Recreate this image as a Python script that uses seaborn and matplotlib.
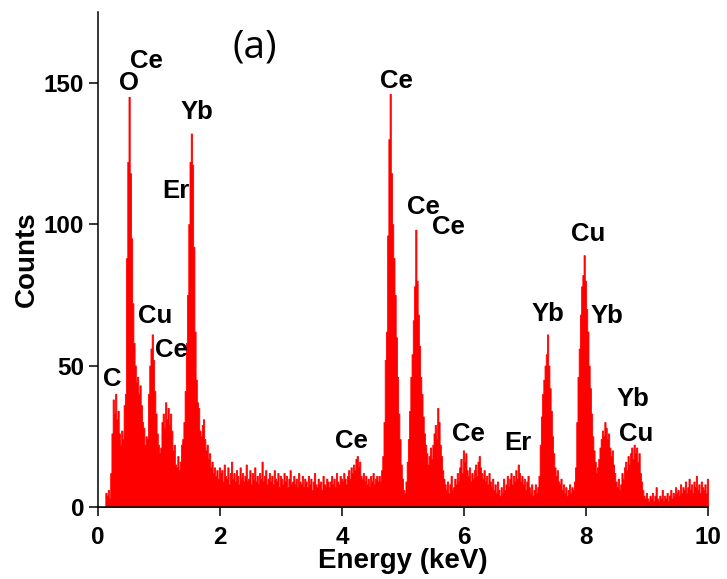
import numpy as np
import matplotlib
matplotlib.use("Agg")
import matplotlib.pyplot as plt
import seaborn as sns

# EDS spectrum, 0.02 keV per channel
counts_0_2kev = [
    0, 0, 0, 0, 0, 0, 5, 4, 6, 3, 12, 26, 38, 33, 40, 31, 34, 26, 22, 27, 24, 36, 40, 88, 122,
    145, 118, 95, 72, 58, 50, 44, 46, 40, 43, 36, 30, 28, 22, 25, 24, 40, 50, 56, 61, 52, 41, 33, 26, 22,
    19, 21, 30, 33, 28, 37, 31, 35, 29, 33, 27, 20, 22, 15, 14, 18, 13, 16, 22, 24, 30, 41, 58, 75, 100,
    122, 132, 121, 92, 62, 45, 37, 35, 27, 25, 29, 31, 24, 20, 22, 17, 19, 14, 16, 12, 14, 11, 13, 10, 14,
]
counts_2_4kev = [
    12, 13, 9, 15, 11, 10, 14, 8, 12, 16, 10, 12, 9, 13, 11, 8, 14, 10, 12, 9, 11, 15, 9, 10, 13,
    8, 12, 10, 14, 9, 11, 8, 12, 10, 16, 9, 11, 13, 8, 10, 12, 9, 11, 8, 13, 10, 9, 12, 7, 11,
    10, 8, 12, 9, 11, 7, 10, 13, 8, 9, 11, 8, 10, 7, 12, 9, 8, 11, 7, 10, 9, 7, 11, 8, 10,
    6, 9, 12, 8, 7, 10, 8, 9, 6, 11, 8, 7, 10, 9, 7, 9, 11, 8, 10, 7, 12, 9, 8, 11, 10,
]
counts_4_6kev = [
    9, 12, 10, 8, 11, 13, 10, 14, 12, 15, 13, 17, 18, 14, 16, 11, 10, 12, 9, 11, 8, 10, 7, 11, 9,
    12, 8, 10, 11, 9, 11, 9, 13, 18, 30, 52, 62, 96, 130, 146, 118, 100, 88, 75, 60, 46, 33, 24, 15, 10,
    6, 5, 9, 16, 24, 34, 46, 54, 66, 78, 98, 80, 68, 57, 46, 40, 32, 26, 22, 19, 15, 18, 21, 17, 22,
    26, 29, 24, 35, 30, 22, 18, 13, 10, 8, 6, 9, 5, 8, 11, 6, 7, 10, 8, 12, 9, 14, 17, 12, 20,
]
counts_6_8kev = [
    16, 19, 13, 11, 14, 9, 12, 10, 13, 15, 11, 16, 18, 14, 12, 10, 13, 9, 11, 8, 12, 9, 7, 10, 6,
    8, 5, 9, 6, 4, 7, 5, 10, 6, 8, 11, 7, 10, 12, 8, 11, 9, 13, 10, 15, 12, 9, 11, 8, 10,
    6, 9, 11, 7, 5, 8, 4, 6, 8, 5, 7, 11, 22, 32, 40, 45, 50, 54, 61, 50, 42, 34, 25, 19, 14,
    11, 13, 9, 8, 10, 6, 8, 5, 7, 4, 6, 8, 5, 7, 6, 9, 14, 30, 46, 56, 68, 78, 82, 89, 80,
]
counts_8_10kev = [
    70, 62, 50, 42, 33, 25, 20, 16, 12, 14, 17, 21, 24, 27, 25, 30, 28, 24, 26, 21, 18, 20, 15, 12, 9,
    7, 10, 6, 8, 12, 10, 14, 16, 13, 18, 15, 19, 21, 17, 22, 19, 21, 16, 19, 12, 9, 6, 4, 3, 5,
    3, 2, 4, 3, 5, 2, 4, 7, 3, 2, 4, 3, 6, 2, 4, 3, 5, 2, 4, 6, 3, 5, 4, 7, 5,
    6, 4, 8, 5, 7, 6, 9, 5, 7, 10, 6, 8, 5, 9, 7, 11, 6, 8, 5, 9, 7, 6, 8, 5, 10,
]

peak_labels = ["C", "O", "Ce", "Cu", "Ce", "Er", "Yb",
               "Ce", "Ce", "Ce", "Ce", "Ce", "Er",
               "Yb", "Cu", "Yb", "Yb", "Cu"]

x_ticks = [0, 2, 4, 6, 8, 10]
y_ticks = [0, 50, 100, 150]

counts = np.array(counts_0_2kev + counts_2_4kev + counts_4_6kev
                  + counts_6_8kev + counts_8_10kev)
energy = np.arange(len(counts)) * 0.02 + 0.01

sns.set_style("ticks")
plt.rcParams["font.family"] = ["Liberation Sans", "DejaVu Sans"]
plt.rcParams["text.color"] = "black"
plt.rcParams["axes.labelcolor"] = "black"

fig = plt.figure(figsize=(7.27, 5.79), dpi=100)
ax = fig.add_axes([0.1348, 0.1244, 0.8391, 0.855])

sns.histplot(
    x=energy,
    weights=counts,
    binwidth=0.02,
    binrange=(0, 10),
    element="step",
    fill=True,
    color="#ff0000",
    alpha=1,
    linewidth=0.6,
    ax=ax,
)

ax.set_xlim(0, 10)
ax.set_ylim(0, 175)
ax.set_xticks(x_ticks)
ax.set_yticks(y_ticks)
ax.tick_params(direction="out", length=6.5, width=1.1, labelsize=17.5,
               colors="black", labelcolor="black")
ax.tick_params(axis="x", pad=7.5)
for lab in ax.get_xticklabels() + ax.get_yticklabels():
    lab.set_fontweight("bold")
sns.despine(ax=ax)
for s in ["left", "bottom"]:
    ax.spines[s].set_linewidth(1.1)
    ax.spines[s].set_color("black")

ax.set_xlabel("Energy (keV)", fontsize=20, fontweight="bold", labelpad=-1, color="black")
ax.set_ylabel("Counts", fontsize=20, fontweight="bold", labelpad=3, color="black")

label_pos = [(0.23, 45.2), (0.51, 149.8), (0.80, 157.6), (0.93, 67.5), (1.21, 55.5),
             (1.28, 111.7), (1.62, 139.6),
             (4.89, 150.5), (5.34, 106.0), (5.75, 98.9), (4.16, 23.3), (6.07, 25.8),
             (6.89, 22.6), (7.38, 68.2), (8.03, 96.5), (8.34, 67.5), (8.77, 38.2),
             (8.82, 25.8)]
for text, (px, py) in zip(peak_labels, label_pos):
    ax.text(px, py, text, ha="center", va="center", fontsize=18.5,
            fontweight="bold", color="black")

ax.text(2.57, 162.5, "(a)", ha="center", va="center", fontsize=28,
        family=["Open Sans", "DejaVu Sans"], color="black")

fig.savefig("out.png", dpi=100)
